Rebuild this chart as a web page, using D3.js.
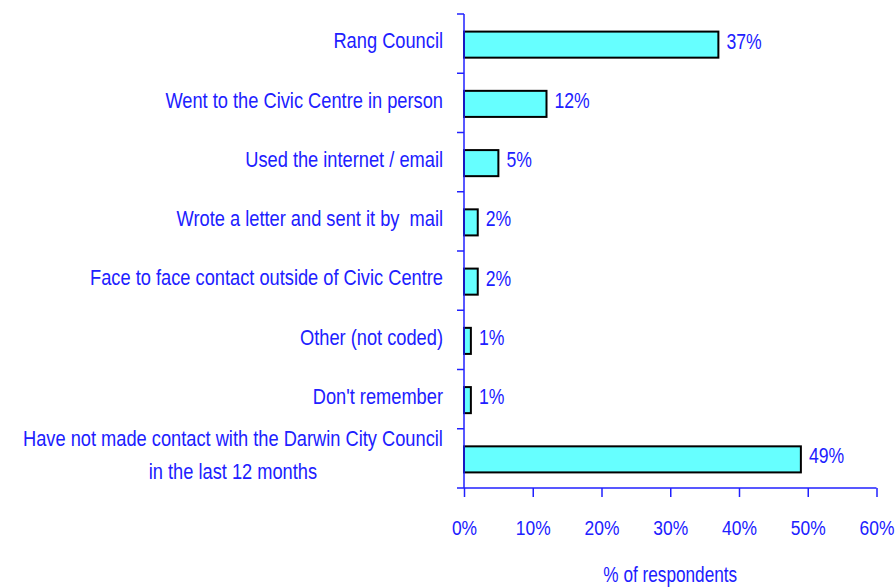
<!DOCTYPE html>
<html><head><meta charset="utf-8">
<script src="https://cdn.jsdelivr.net/npm/d3@7"></script>
<style>
body{margin:0;background:#fff;}
text{font-family:"Liberation Sans",Arial,sans-serif;fill:#2020ff;}
</style></head>
<body><svg id="c" width="895" height="587"></svg>
<script>
const categories = [
  "Rang Council",
  "Went to the Civic Centre in person",
  "Used the internet / email",
  "Wrote a letter and sent it by  mail",
  "Face to face contact outside of Civic Centre",
  "Other (not coded)",
  "Don't remember",
  "Have not made contact with the Darwin City Council|in the last 12 months"
];
const values = [37, 12, 5, 2, 2, 1, 1, 49];
const xTicks = [0, 10, 20, 30, 40, 50, 60];
const xTitle = "% of respondents";

const svg = d3.select("#c");
const mLeft = 464, mRight = 876.5, mTop = 14, mBottom = 488;
const blue = "#2020ff";

function addText(px, py, str, anchor, size, sx) {
  return svg.append("text")
    .attr("transform", `translate(${px},${py}) scale(${sx},1)`)
    .attr("text-anchor", anchor || "start")
    .attr("font-size", size)
    .style("white-space", "pre")
    .text(str);
}

const x = d3.scaleLinear().domain([0, 60]).range([mLeft, mRight]);
const y = d3.scaleBand().domain(categories).range([mTop, mBottom]).paddingInner(0.56).paddingOuter(0.28);
const bandC = i => mTop + (i + 0.5) * (mBottom - mTop) / categories.length;

// bars
svg.selectAll("rect.bar").data(values).enter().append("rect")
  .attr("class", "bar")
  .attr("x", x(0))
  .attr("y", (d, i) => y(categories[i]) + 1)
  .attr("width", d => x(d) - x(0))
  .attr("height", y.bandwidth())
  .attr("fill", "#66ffff").attr("stroke", "#000").attr("stroke-width", 2);

// value labels
values.forEach((d, i) => {
  addText(x(d) + 8, y(categories[i]) + 1 + y.bandwidth() / 2 + 4, d + "%", "start", 22, 0.8);
});

// y axis line + ticks at band boundaries
const yAxisG = svg.append("g");
yAxisG.append("line").attr("x1", mLeft).attr("x2", mLeft).attr("y1", mTop).attr("y2", mBottom)
  .attr("stroke", blue).attr("stroke-width", 1.5);
d3.range(categories.length + 1).forEach(i => {
  const yy = mTop + i * (mBottom - mTop) / categories.length;
  yAxisG.append("line").attr("x1", mLeft - 7).attr("x2", mLeft).attr("y1", yy).attr("y2", yy)
    .attr("stroke", blue).attr("stroke-width", 1.5);
});

// category labels
const catSize = 22, catSx = 0.83;
categories.forEach((c, i) => {
  const yc = bandC(i);
  const lines = c.split("|");
  if (lines.length === 1) {
    addText(443, yc + 4.7, c, "end", catSize, catSx);
  } else {
    const tmp = svg.append("text").attr("font-size", catSize).text(lines[0]);
    const w = tmp.node().getComputedTextLength() * catSx; tmp.remove();
    const cx = 443 - w / 2;
    lines.forEach((l, j) => addText(cx, yc - 12.4 + j * 33, l, "middle", catSize, catSx));
  }
});

// x axis
const xAxis = d3.axisBottom(x).tickValues(xTicks).tickFormat(d => d + "%").tickSize(9);
const gx = svg.append("g").attr("transform", `translate(0,${mBottom})`).call(xAxis);
gx.select(".domain").attr("stroke", blue).attr("stroke-width", 1.5).attr("d", `M${mLeft},0H${mRight}`);
gx.selectAll(".tick line").attr("stroke", blue).attr("stroke-width", 1.5);
gx.selectAll(".tick text").attr("font-size", 21).attr("fill", blue)
  .attr("font-family", null).attr("y", 47).attr("dy", null)
  .attr("transform", "scale(0.83,1)");

addText((mLeft + mRight) / 2, 582.3, xTitle, "middle", 21.5, 0.8);
</script></body></html>
